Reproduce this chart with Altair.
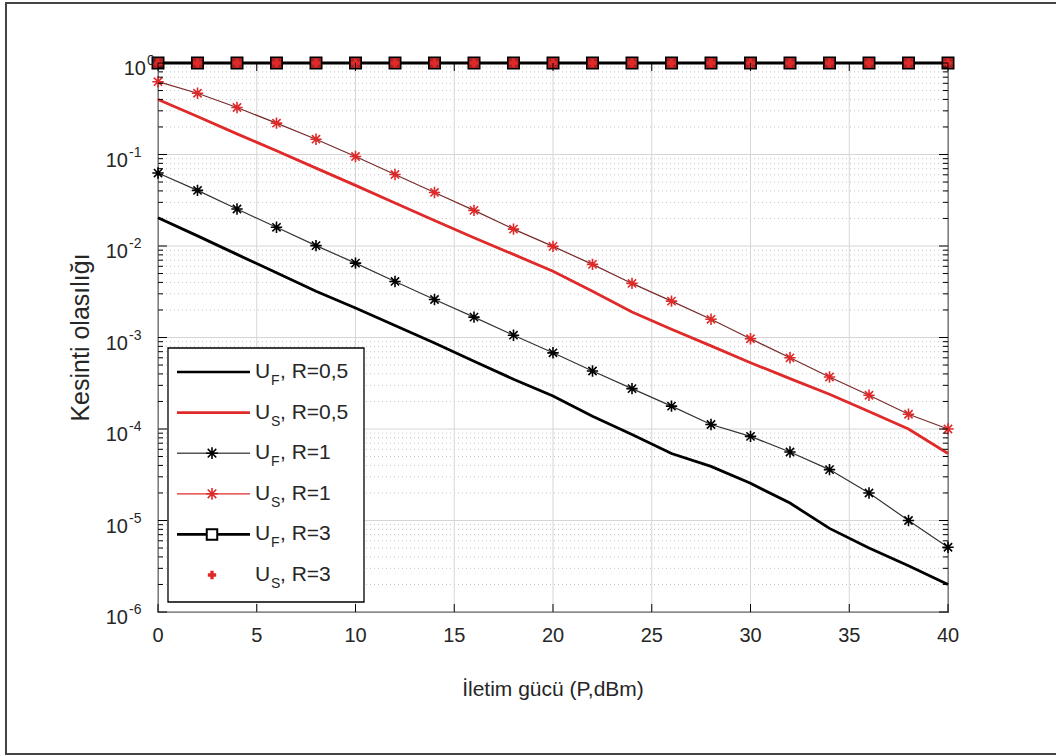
import altair as alt
import pandas as pd

# Transmit power (dBm)
power = [0, 2, 4, 6, 8, 10, 12, 14, 16, 18, 20, 22, 24, 26, 28, 30, 32, 34, 36, 38, 40]

# Outage probability per user / target rate
uf_r05 = [2.04e-2, 1.29e-2, 8.1e-3, 5.1e-3, 3.2e-3, 2.1e-3, 1.35e-3, 8.7e-4, 5.5e-4, 3.5e-4,
          2.3e-4, 1.38e-4, 8.7e-5, 5.4e-5, 3.9e-5, 2.55e-5, 1.55e-5, 8.2e-6, 5.0e-6, 3.2e-6, 2.0e-6]
us_r05 = [0.40, 0.26, 0.168, 0.11, 0.071, 0.046, 0.0295, 0.019, 0.0123, 0.0081,
          0.0053, 0.0032, 0.0019, 0.00123, 0.00081, 0.00053, 0.000355, 0.00024, 0.000155, 0.0001, 5.4e-5]
uf_r1 = [0.0627, 0.0405, 0.0254, 0.016, 0.0101, 0.0065, 0.0041, 0.0026, 0.00167, 0.00106,
         0.00068, 0.00043, 0.000276, 0.000178, 0.000112, 8.3e-5, 5.6e-5, 3.6e-5, 2.0e-5, 1.0e-5, 5.1e-6]
us_r1 = [0.625, 0.467, 0.326, 0.22, 0.147, 0.095, 0.0605, 0.0385, 0.0245, 0.0153,
         0.0099, 0.0063, 0.0039, 0.0025, 0.00158, 0.00097, 0.0006, 0.00037, 0.000234, 0.000145, 0.0001]
uf_r3 = [1.0, 1.0, 1.0, 1.0, 1.0, 1.0, 1.0, 1.0, 1.0, 1.0, 1.0,
         1.0, 1.0, 1.0, 1.0, 1.0, 1.0, 1.0, 1.0, 1.0, 1.0]
us_r3 = [1.0, 1.0, 1.0, 1.0, 1.0, 1.0, 1.0, 1.0, 1.0, 1.0, 1.0,
         1.0, 1.0, 1.0, 1.0, 1.0, 1.0, 1.0, 1.0, 1.0, 1.0]

# Axis ticks and labels
x_ticks = [0, 5, 10, 15, 20, 25, 30, 35, 40]
x_tick_labels = ["0", "5", "10", "15", "20", "25", "30", "35", "40"]
y_ticks = [1, 1e-1, 1e-2, 1e-3, 1e-4, 1e-5, 1e-6]
y_tick_base = ["10", "10", "10", "10", "10", "10", "10"]
y_tick_exp = ["0", "-1", "-2", "-3", "-4", "-5", "-6"]
y_minor = [k * 10.0 ** (-e) for e in range(1, 7) for k in range(2, 10)]

x_title = "İletim gücü (P,dBm)"
y_title = "Kesinti olasılığı"

# Legend entries
legend_base = ["U", "U", "U", "U", "U", "U"]
legend_sub = ["F", "S", "F", "S", "F", "S"]
legend_rest = [", R=0,5", ", R=0,5", ", R=1", ", R=1", ", R=3", ", R=3"]

# ---------------------------------------------------------------- styling
W, H = 790, 549
FONT = "Liberation Sans"
TXT = "#262626"
RED = "#e02a2a"
ASTERISK = "M0,-1L0,1M-1,0L1,0M-0.72,-0.72L0.72,0.72M-0.72,0.72L0.72,-0.72"

legend_line_color = ["#000000", RED, "#555555", RED, "#000000", None]
legend_line_width = [2.6, 2.6, 1.4, 1.2, 2.6, 0]
legend_marker_shape = [None, None, ASTERISK, ASTERISK, "square", "cross"]
legend_marker_color = [None, None, "#000000", RED, "#000000", RED]

xs = alt.Scale(domain=[0, 40], nice=False, zero=False)
ys = alt.Scale(type="log", domain=[1e-6, 1], nice=False)


def X(field="p"):
    return alt.X(f"{field}:Q", scale=xs, axis=None)


def Y(field="v"):
    return alt.Y(f"{field}:Q", scale=ys, axis=None)


def series(values):
    return pd.DataFrame({"p": power, "v": values})


# figure frame: left, top and bottom edges of the figure border
one = pd.DataFrame({"a": [0]})
frame_style = dict(color="#444444", strokeWidth=2)
frame = [
    alt.Chart(one).mark_rule(**frame_style).encode(x=alt.value(-152), y=alt.value(-60), y2=alt.value(691)),
    alt.Chart(one).mark_rule(**frame_style).encode(x=alt.value(-153), x2=alt.value(898), y=alt.value(-60)),
    alt.Chart(one).mark_rule(**frame_style).encode(x=alt.value(-153), x2=alt.value(898), y=alt.value(691)),
]

# grid
ymaj = pd.DataFrame({"v": y_ticks})
ymin = pd.DataFrame({"v": y_minor})
xmaj = pd.DataFrame({"p": x_ticks, "label": x_tick_labels})
ylab = pd.DataFrame({"v": y_ticks, "base": y_tick_base, "exp": y_tick_exp})
# "10" sits further left when the exponent carries a minus sign
ylab["bx"] = [-12 if e == "0" else -30 for e in y_tick_exp]
ylab["ex"] = ylab["bx"] + 1

grid_y_minor = alt.Chart(ymin).mark_rule(color="#c4c4c4", strokeWidth=1, strokeDash=[1, 3]).encode(
    y=Y(), x=alt.value(0), x2=alt.value(W))
grid_y_major = alt.Chart(ymaj).mark_rule(color="#d6d6d6", strokeWidth=1).encode(
    y=Y(), x=alt.value(0), x2=alt.value(W))
grid_x_major = alt.Chart(xmaj).mark_rule(color="#d6d6d6", strokeWidth=1).encode(
    x=X(), y=alt.value(0), y2=alt.value(H))

# ticks (pointing inward on all four sides)
ticks = [
    alt.Chart(ymaj).mark_rule(color="black").encode(y=Y(), x=alt.value(0), x2=alt.value(9)),
    alt.Chart(ymaj).mark_rule(color="black").encode(y=Y(), x=alt.value(W - 9), x2=alt.value(W)),
    alt.Chart(ymin).mark_rule(color="black").encode(y=Y(), x=alt.value(0), x2=alt.value(5)),
    alt.Chart(ymin).mark_rule(color="black").encode(y=Y(), x=alt.value(W - 5), x2=alt.value(W)),
    alt.Chart(xmaj).mark_rule(color="black").encode(x=X(), y=alt.value(H - 8), y2=alt.value(H)),
    alt.Chart(xmaj).mark_rule(color="black").encode(x=X(), y=alt.value(0), y2=alt.value(8)),
]

# tick labels and titles
x_labels = alt.Chart(xmaj).mark_text(font=FONT, fontSize=20, baseline="top", color=TXT).encode(
    x=X(), y=alt.value(H + 14), text="label:N")
y_labels_base = alt.Chart(ylab).mark_text(font=FONT, fontSize=20, align="right", baseline="middle",
                                          dy=6, color=TXT).encode(
    y=Y(), x=alt.X("bx:Q", scale=None), text="base:N")
y_labels_exp = alt.Chart(ylab).mark_text(font=FONT, fontSize=14, align="left", baseline="middle",
                                         dy=-2, color=TXT).encode(
    y=Y(), x=alt.X("ex:Q", scale=None), text="exp:N")
x_title_mark = alt.Chart(pd.DataFrame({"t": [x_title]})).mark_text(
    font=FONT, fontSize=21, baseline="middle", color=TXT).encode(
    x=alt.value(W / 2), y=alt.value(H + 78), text="t:N")
y_title_mark = alt.Chart(pd.DataFrame({"t": [y_title]})).mark_text(
    font=FONT, fontSize=25, baseline="middle", angle=270, color=TXT).encode(
    x=alt.value(-77), y=alt.value(H / 2), text="t:N")

# curves
l_uf05 = alt.Chart(series(uf_r05)).mark_line(color="black", strokeWidth=2.8).encode(x=X(), y=Y())
l_us05 = alt.Chart(series(us_r05)).mark_line(color=RED, strokeWidth=2.8).encode(x=X(), y=Y())
l_uf1 = alt.Chart(series(uf_r1)).mark_line(color="#333333", strokeWidth=1.2).encode(x=X(), y=Y())
p_uf1 = alt.Chart(series(uf_r1)).mark_point(shape=ASTERISK, filled=False, color="black",
                                            size=130, strokeWidth=1.6, opacity=1).encode(x=X(), y=Y())
l_us1 = alt.Chart(series(us_r1)).mark_line(color="#7a2a2a", strokeWidth=1.2).encode(x=X(), y=Y())
p_us1 = alt.Chart(series(us_r1)).mark_point(shape=ASTERISK, filled=False, color=RED,
                                            size=130, strokeWidth=1.6, opacity=1).encode(x=X(), y=Y())
l_uf3 = alt.Chart(series(uf_r3)).mark_line(color="black", strokeWidth=2.8).encode(x=X(), y=Y())
p_uf3 = alt.Chart(series(uf_r3)).mark_point(shape="square", filled=True, fill="#a82020", stroke="black",
                                            size=130, strokeWidth=1.6, opacity=1).encode(x=X(), y=Y())
p_us3 = alt.Chart(series(us_r3)).mark_point(shape="cross", filled=True, color=RED,
                                            size=75, opacity=1).encode(x=X(), y=Y())

main = alt.layer(*frame, grid_y_minor, grid_y_major, grid_x_major,
                 l_uf05, l_us05, l_uf1, l_us1, p_uf1, p_us1, l_uf3, p_uf3, p_us3,
                 *ticks, x_labels, y_labels_base, y_labels_exp, x_title_mark, y_title_mark)

# legend
leg = pd.DataFrame({
    "row": list(range(6)),
    "base": legend_base,
    "sub": legend_sub,
    "rest": legend_rest,
    "lc": legend_line_color,
    "lw": legend_line_width,
    "ms": legend_marker_shape,
    "mc": legend_marker_color,
})
ly = alt.Y("row:O", scale=alt.Scale(type="point", domain=list(range(6)), range=[309, 512], padding=0),
           axis=None)

leg_box = alt.Chart(one).mark_rect(fill="white", stroke="black", strokeWidth=1.3).encode(
    x=alt.value(10), x2=alt.value(206), y=alt.value(285), y2=alt.value(539))
leg_lines = alt.Chart(leg[leg["lw"] > 0]).mark_rule().encode(
    y=ly, x=alt.value(19), x2=alt.value(92),
    color=alt.Color("lc:N", scale=None), strokeWidth=alt.StrokeWidth("lw:Q", scale=None))
leg_ast = alt.Chart(leg[leg["ms"] == ASTERISK]).mark_point(filled=False, size=140, strokeWidth=1.6, opacity=1).encode(
    y=ly, x=alt.value(54), shape=alt.Shape("ms:N", scale=None), color=alt.Color("mc:N", scale=None))
leg_sq = alt.Chart(leg[leg["ms"] == "square"]).mark_point(shape="square", filled=True, fill="white",
                                                           stroke="black", size=110, strokeWidth=2,
                                                           opacity=1).encode(y=ly, x=alt.value(54))
leg_plus = alt.Chart(leg[leg["ms"] == "cross"]).mark_point(shape="cross", filled=True, color=RED,
                                                           size=70, opacity=1).encode(y=ly, x=alt.value(54))
leg_base = alt.Chart(leg).mark_text(font=FONT, fontSize=21, align="left", baseline="middle",
                                    color=TXT).encode(y=ly, x=alt.value(97), text="base:N")
leg_sub = alt.Chart(leg).mark_text(font=FONT, fontSize=14, align="left", baseline="middle", dy=9,
                                   color=TXT).encode(y=ly, x=alt.value(113), text="sub:N")
leg_rest = alt.Chart(leg).mark_text(font=FONT, fontSize=21, align="left", baseline="middle",
                                    color=TXT).encode(y=ly, x=alt.value(122), text="rest:N")

legend = alt.layer(leg_box, leg_lines, leg_ast, leg_sq, leg_plus, leg_base, leg_sub, leg_rest)

chart = alt.layer(main, legend).resolve_scale(y="independent").properties(
    width=W, height=H,
    autosize=alt.AutoSizeParams(type="none"),
    padding={"left": 158, "top": 63, "right": 108, "bottom": 144},
    background="white",
).configure_view(stroke="black", strokeWidth=1.3)

chart.save("out.html", embed_options={"renderer": "svg", "actions": False})
